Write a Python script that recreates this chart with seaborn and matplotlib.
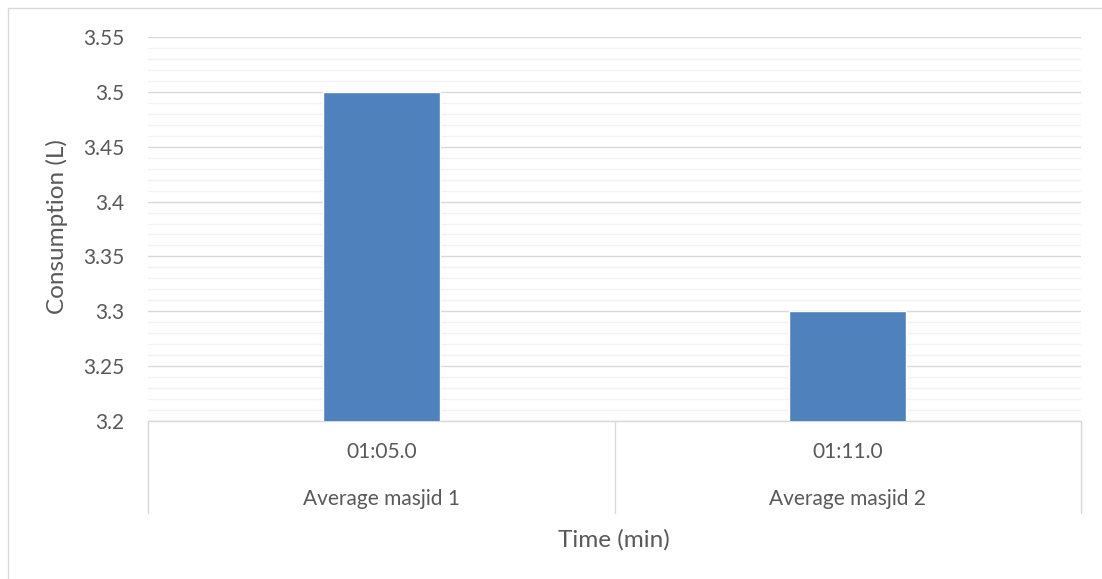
import numpy as np
import pandas as pd
import matplotlib
matplotlib.use("Agg")
import matplotlib.pyplot as plt
import matplotlib.transforms as mtransforms
from matplotlib.patches import Rectangle
import seaborn as sns

# Chart data
groups = ["Average masjid 1", "Average masjid 2"]
times = ["01:05.0", "01:11.0"]
consumption = [3.5, 3.3]

df = pd.DataFrame({"time": times, "group": groups, "consumption": consumption})

sns.set_style("white")
plt.rcParams["font.family"] = ["Lato", "DejaVu Sans"]

W, H = 1102, 579
fig = plt.figure(figsize=(W / 100, H / 100), dpi=100)

# plot area in pixels
x0, x1, ytop, ybot = 148, 1081, 37, 421
ax = fig.add_axes([x0 / W, (H - ybot) / H, (x1 - x0) / W, (ybot - ytop) / H])

sns.barplot(data=df, x="time", y="consumption", color="#4f81bd", width=0.25,
            saturation=1, ax=ax, zorder=3)

ax.set_ylim(3.2, 3.55)
ax.set_xlim(-0.5, 1.5)
ax.set_yticks(np.arange(3.2, 3.551, 0.05))
ax.set_yticklabels(["3.2", "3.25", "3.3", "3.35", "3.4", "3.45", "3.5", "3.55"])
ax.set_yticks(np.arange(3.2, 3.551, 0.01), minor=True)
ax.grid(axis="y", which="major", color="#d9d9d9", lw=1.0, zorder=0)
ax.grid(axis="y", which="minor", color="#f2f2f2", lw=1.0, zorder=0)
ax.set_axisbelow(True)

for s in ["top", "right", "left"]:
    ax.spines[s].set_visible(False)
ax.spines["bottom"].set_color("#d9d9d9")
ax.spines["bottom"].set_linewidth(1.0)

ax.tick_params(axis="y", which="both", length=0, pad=17, labelsize=15, labelcolor="#595959")
ax.tick_params(axis="x", length=0, pad=15, labelsize=15, labelcolor="#595959")

ax.set_xlabel("")
ax.set_ylabel("")

# multi-level category axis: second level labels and divider lines
trans = mtransforms.blended_transform_factory(ax.transData, ax.transAxes)
ph = ybot - ytop
for i, g in enumerate(groups):
    ax.text(i, -(499 - ybot) / ph, g, transform=trans, ha="center", va="center",
            fontsize=15, color="#595959")
line_bottom = -(513 - ybot) / ph
for xa in [0, 0.5, 1]:
    ax.plot([xa, xa], [0, line_bottom], transform=ax.transAxes, color="#d9d9d9",
            lw=1.0, clip_on=False)

# axis titles
fig.text(57 / W, 1 - 227 / H, "Consumption (L)", rotation=90, ha="center", va="center",
         fontsize=17.5, color="#595959")
fig.text(614 / W, 1 - 540 / H, "Time (min)", ha="center", va="center",
         fontsize=17.5, color="#595959")

# chart area border (only left/top visible in the crop)
fig.patches.append(Rectangle((8 / W, -0.1), 1.2, 1 - 8 / H + 0.1, transform=fig.transFigure,
                             fill=False, edgecolor="#d9d9d9", lw=1.0))

fig.savefig("out.png", dpi=100)
